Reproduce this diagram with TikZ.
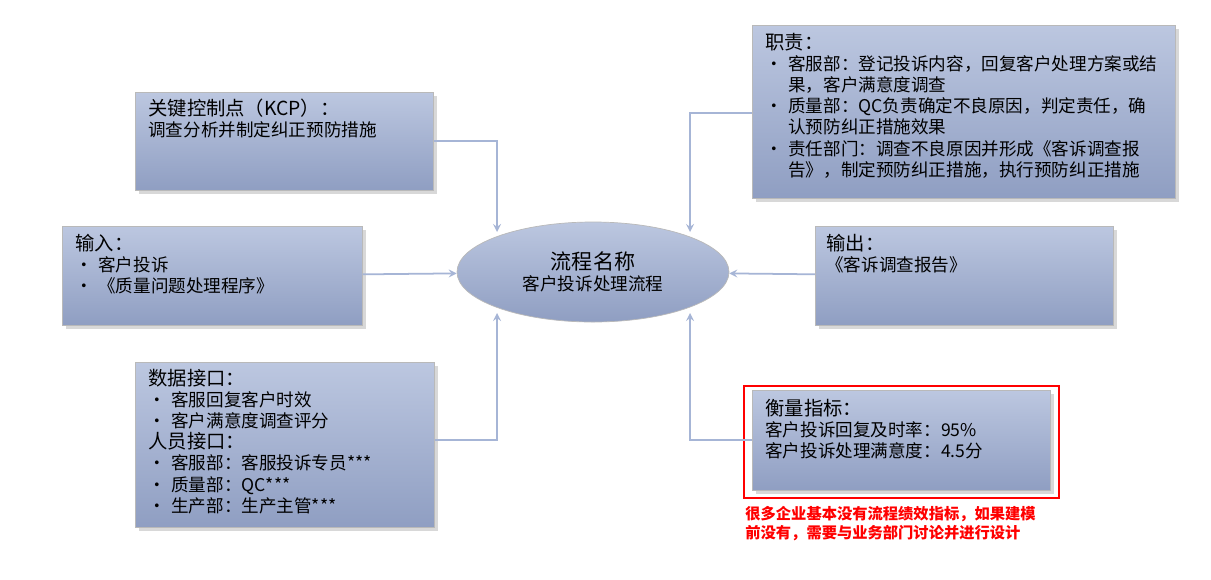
\documentclass[tikz,border=0pt]{standalone}
\usepackage{fontspec}
\setmainfont{Noto Sans CJK SC}
\usetikzlibrary{shapes.geometric,shadows}
\definecolor{boxtop}{HTML}{BCC7E0}
\definecolor{boxbot}{HTML}{8F9EC2}
\definecolor{linkc}{HTML}{A6B5D6}
\tikzset{
 infobox/.style={draw=gray!55,thin,top color=boxtop,bottom color=boxbot,
   drop shadow={shadow xshift=2pt,shadow yshift=-2pt,opacity=0.3},
   minimum width=#1,inner sep=0pt},
 infotext/.style={anchor=north west,inner sep=0pt,align=left,
   font=\fontsize{10}{12}\selectfont},
 link/.style={draw=linkc,line width=1pt,->,>=stealth}
}
\newcommand{\bul}{\makebox[23\pxu][l]{•}}
\newcommand{\ind}{\hspace*{23\pxu}}
\newlength{\pxu}\setlength{\pxu}{0.02cm}
\begin{document}
\begin{tikzpicture}[x=0.02cm,y=-0.02cm]
 \useasboundingbox[fill=white] (0,0) rectangle (1211,579);
 % boxes
 \node[infobox=298\pxu,minimum height=98\pxu,anchor=north west] (kcp) at (135,92) {};
 \node[infobox=423\pxu,minimum height=173\pxu,anchor=north west] (duty) at (752,25) {};
 \node[infobox=300\pxu,minimum height=99\pxu,anchor=north west] (input) at (62,226) {};
 \node[infobox=298\pxu,minimum height=99\pxu,anchor=north west] (output) at (815,226) {};
 \node[infobox=299\pxu,minimum height=165\pxu,anchor=north west] (data) at (135,362) {};
 \node[infobox=298\pxu,minimum height=100\pxu,anchor=north west] (metric) at (752,390) {};
 \node[draw=red,line width=1pt,minimum width=315\pxu,minimum height=112\pxu,anchor=north west,inner sep=0pt] (mark) at (743,385) {};
 \node[ellipse,draw=gray!55,thin,top color=boxtop,bottom color=boxbot,
   minimum width=272\pxu,minimum height=100\pxu,inner sep=0pt,align=center] (proc) at (593,272)
   {{\fontsize{12}{16}\selectfont 流程名称}\\{\fontsize{10}{13}\selectfont 客户投诉处理流程}};
 % texts
 \node[infotext] (kcpt) at (148,99) {{\fontsize{11}{13}\selectfont 关键控制点（KCP）：}\\调查分析并制定纠正预防措施};
 \node[infotext] (dutyt) at (765,33) {{\fontsize{11}{13}\selectfont 职责：}\\
  \bul 客服部：登记投诉内容，回复客户处理方案或结\\\ind 果，客户满意度调查\\
  \bul 质量部：QC负责确定不良原因，判定责任，确\\\ind 认预防纠正措施效果\\
  \bul 责任部门：调查不良原因并形成《客诉调查报\\\ind 告》，制定预防纠正措施，执行预防纠正措施};
 \node[infotext] (inputt) at (75,234) {{\fontsize{11}{13}\selectfont 输入：}\\\bul 客户投诉\\\bul《质量问题处理程序》};
 \node[infotext] (outputt) at (826,234) {{\fontsize{11}{13}\selectfont 输出：}\\《客诉调查报告》};
 \node[infotext] (datat) at (148,369) {{\fontsize{11}{13}\selectfont 数据接口：}\\\bul 客服回复客户时效\\\bul 客户满意度调查评分\\
  {\fontsize{11}{13}\selectfont 人员接口：}\\\bul 客服部：客服投诉专员***\\\bul 质量部：QC***\\\bul 生产部：生产主管***};
 \node[infotext] (metrict) at (765,399) {{\fontsize{11}{13}\selectfont 衡量指标：}\\客户投诉回复及时率：95\%\\客户投诉处理满意度：4.5分};
 \node[infotext,text=red,font=\fontsize{8.7}{11}\bfseries] (note) at (745,506)
  {很多企业基本没有流程绩效指标，如果建模\\前没有，需要与业务部门讨论并进行设计};
 % connectors
 \draw[link] (kcp.east |- 0,141) -| (497,232);
 \draw[link] (duty.west |- 0,113) -| (690,232);
 \draw[link] (input) -- (proc);
 \draw[link] (output) -- (proc);
 \draw[link] (data.east |- 0,440) -| (497,313);
 \draw[link] (metric.west |- 0,440) -| (690,313);
\end{tikzpicture}
\end{document}
